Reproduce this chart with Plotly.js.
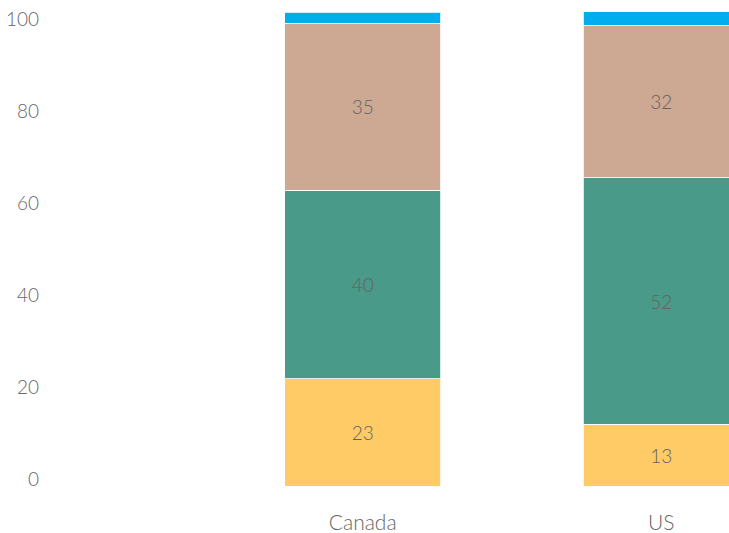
<!DOCTYPE html>
<html>
<head>
<meta charset="utf-8">
<script src="https://cdn.plot.ly/plotly-3.0.1.min.js"></script>
<style>html,body{margin:0;padding:0;background:#fff;}#chart{width:729px;height:533px;}</style>
</head>
<body>
<div id="chart"></div>
<script>
const categories = ["Canada", "US"];
const seriesYellow = [22.6, 13.0];
const seriesGreen = [39.8, 52.0];
const seriesBeige = [35.2, 32.2];
const seriesBlue = [2.4, 2.9];
const yTicks = [0, 20, 40, 60, 80, 100];

const FONT = 'Lato, "Open Sans", sans-serif';
const labelFont = {family: FONT, size: 19, color: '#636363', weight: 300};

function mk(vals, color, showText) {
  return {
    type: 'bar',
    x: categories,
    y: vals,
    width: 0.522,
    marker: {color: color, line: {color: 'rgba(255,255,255,0.8)', width: 1}},
    texttemplate: showText ? '%{y:.0f}' : '',
    textposition: showText ? 'inside' : 'none',
    insidetextanchor: 'middle',
    textfont: labelFont,
    hoverinfo: 'none',
    showlegend: false
  };
}

const data = [
  mk(seriesYellow, '#FECB67', true),
  mk(seriesGreen, '#4A9A89', true),
  mk(seriesBeige, '#CDA994', true),
  mk(seriesBlue, '#00ADEE', false)
];

// y2 carries only the tick labels, at the reference's label positions
data.push({type: 'scatter', x: [], y: [], yaxis: 'y2', showlegend: false, hoverinfo: 'none'});

const L = 40, R = 0, T = 12, B = 47;
const pxPerCat = 298.5;
const xLeft = -(362.7 - L) / pxPerCat;
const xRight = 1 + (729 - R - (362.7 + pxPerCat)) / pxPerCat;

const layout = {
  width: 729, height: 533,
  margin: {l: L, r: R, t: T, b: B, pad: 0},
  paper_bgcolor: '#ffffff', plot_bgcolor: '#ffffff',
  barmode: 'stack',
  showlegend: false,
  xaxis: {
    type: 'category',
    range: [xLeft, xRight],
    showgrid: false, zeroline: false, showline: false,
    ticks: 'outside', ticklen: 18, tickcolor: 'rgba(0,0,0,0)',
    tickfont: {family: FONT, size: 21, color: '#666666', weight: 300},
    fixedrange: true
  },
  yaxis: {
    range: [0, 100],
    visible: false,
    fixedrange: true
  },
  yaxis2: {
    overlaying: 'y',
    side: 'left',
    range: [-7 / 4.6, 100 + 7 / 4.6],
    tickvals: yTicks,
    ticktext: yTicks.map(String),
    showgrid: false, zeroline: false, showline: false,
    ticks: '',
    tickfont: {family: FONT, size: 19, color: '#666666', weight: 300},
    fixedrange: true
  }
};

Plotly.newPlot('chart', data, layout, {displayModeBar: false, staticPlot: true});
</script>
</body>
</html>
